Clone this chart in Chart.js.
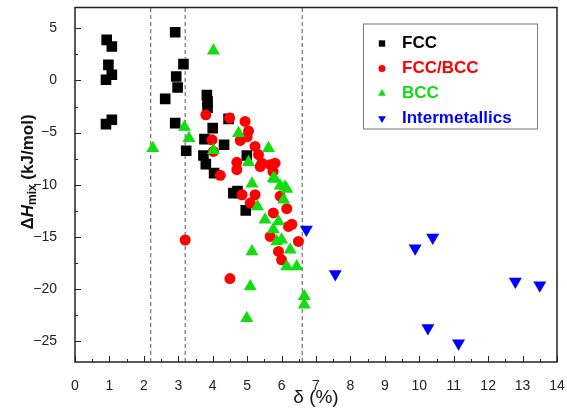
<!DOCTYPE html>
<html>
<head>
<meta charset="utf-8">
<script src="https://cdn.jsdelivr.net/npm/chart.js@4"></script>
<style>
  html, body { margin: 0; padding: 0; background: #fff; }
  #wrap { width: 567px; height: 412px; }
</style>
</head>
<body>
<div id="wrap"><canvas id="phaseChart"></canvas></div>
<script>
// delta (%) vs dHmix (kJ/mol)
const fccPoints = [
  [0.92, 3.9], [1.07, 3.26], [0.97, 1.5], [1.07, 0.55], [0.9, 0.07], [1.07, -3.77], [0.9, -4.19],
  [2.91, 4.63], [3.15, 1.57], [2.94, 0.38], [2.98, -0.67], [2.62, -1.76], [2.91, -4.09], [3.23, -6.74],
  [3.83, -1.4], [3.85, -2.0], [3.85, -2.6], [4.0, -4.57], [3.76, -5.62], [4.33, -6.17], [4.46, -3.68],
  [3.73, -7.19], [3.8, -8.02], [4.04, -8.89], [4.99, -7.19], [4.6, -10.8], [4.72, -10.6], [4.96, -12.46]
];
const fccBccPoints = [
  [3.8, -3.29], [4.49, -3.61], [4.94, -3.93], [5.04, -4.85], [5.0, -5.4], [4.8, -5.75], [5.23, -6.33],
  [3.98, -5.69], [4.02, -6.8], [5.33, -7.12], [5.43, -7.93], [5.67, -8.08], [5.81, -7.93], [5.75, -8.72],
  [5.38, -8.25], [4.7, -7.85], [4.7, -8.56], [4.22, -9.1], [4.85, -10.96], [5.23, -10.96], [5.09, -11.76],
  [5.96, -11.1], [6.15, -12.3], [5.76, -12.7], [6.3, -13.8], [6.2, -14.0], [5.67, -14.96], [6.49, -15.44],
  [5.91, -16.4], [6.0, -17.2], [3.2, -15.3], [4.5, -19.0]
];
const bccPoints = [
  [4.02, 2.85], [2.26, -6.49], [3.18, -4.45], [3.31, -5.53], [4.75, -5.05], [4.02, -6.7], [5.04, -7.85],
  [5.62, -6.49], [5.14, -9.9], [5.76, -9.37], [5.81, -9.45], [5.96, -10.1], [6.1, -10.2], [6.15, -10.4],
  [6.06, -11.44], [5.3, -12.08], [5.52, -13.36], [5.91, -13.52], [5.76, -14.3], [6.0, -15.28], [5.86, -15.44],
  [6.25, -16.23], [6.15, -17.83], [6.44, -17.83], [5.14, -16.4], [5.09, -19.75], [4.99, -22.8],
  [6.66, -20.7], [6.66, -21.5]
];
const interPoints = [
  [6.72, -14.3], [7.56, -18.57], [9.88, -16.1], [10.39, -15.05], [10.25, -23.75], [11.14, -25.2],
  [12.79, -19.27], [13.5, -19.65]
];
const dashedX = [2.2, 3.2, 6.6];
const xTicks = [0, 1, 2, 3, 4, 5, 6, 7, 8, 9, 10, 11, 12, 13, 14];
const yTicks = [5, 0, -5, -10, -15, -20, -25];

const toXY = arr => arr.map(p => ({ x: p[0], y: p[1] }));
const FONT = "'Liberation Sans', Arial, sans-serif";

const series = [
  { label: 'FCC', data: fccPoints, color: '#000000', style: 'rect', r: 7.5, rot: 0 },
  { label: 'FCC/BCC', data: fccBccPoints, color: '#ff0000', style: 'circle', r: 5.5, rot: 0 },
  { label: 'BCC', data: bccPoints, color: '#11dd11', style: 'triangle', r: 7.5, rot: 0 },
  { label: 'Intermetallics', data: interPoints, color: '#0000ff', style: 'triangle', r: 7.5, rot: 180 }
];

const datasets = series.map((s, i) => ({
  label: s.label,
  data: toXY(s.data),
  pointStyle: s.style,
  pointRadius: s.r,
  rotation: s.rot,
  backgroundColor: s.color,
  borderColor: s.color,
  borderWidth: 0,
  order: series.length - i
}));

dashedX.forEach(v => {
  datasets.push({
    type: 'line',
    label: '',
    data: [{ x: v, y: -27 }, { x: v, y: 7 }],
    borderColor: '#555',
    borderWidth: 1,
    borderDash: [4, 3],
    pointRadius: 0,
    order: 20
  });
});

// frame, inward ticks, y title and the boxed legend
const decorations = {
  id: 'decorations',
  afterDatasetsDraw(chart) {
    const { ctx, chartArea: a, scales: { x, y } } = chart;
    ctx.save();
    ctx.strokeStyle = '#222';
    ctx.lineWidth = 1.5;
    ctx.strokeRect(a.left, a.top, a.right - a.left, a.bottom - a.top);

    ctx.lineWidth = 1;
    ctx.beginPath();
    for (let v = 0; v <= 14; v += 0.5) {
      const px = Math.round(x.getPixelForValue(v)) + 0.5;
      const len = Number.isInteger(v) ? 6 : 3;
      ctx.moveTo(px, a.bottom);
      ctx.lineTo(px, a.bottom - len);
    }
    for (let v = -25; v <= 5; v += 2.5) {
      const py = Math.round(y.getPixelForValue(v)) + 0.5;
      const len = v % 5 === 0 ? 6 : 3;
      ctx.moveTo(a.left, py);
      ctx.lineTo(a.left + len, py);
    }
    ctx.stroke();

    // y axis title: ΔH_mix (kJ/mol)
    ctx.translate(28, 172);
    ctx.rotate(-Math.PI / 2);
    ctx.fillStyle = '#111';
    ctx.textBaseline = 'middle';
    const parts = [
      { t: 'Δ', f: 'bold 17px ' + FONT, dy: 0 },
      { t: 'H', f: 'italic bold 17px ' + FONT, dy: 0 },
      { t: 'mix', f: 'bold 12px ' + FONT, dy: 5 },
      { t: ' (kJ/mol)', f: 'bold 17px ' + FONT, dy: 0 }
    ];
    let total = 0;
    parts.forEach(p => { ctx.font = p.f; p.w = ctx.measureText(p.t).width; total += p.w; });
    let cx = -total / 2;
    ctx.textAlign = 'left';
    parts.forEach(p => { ctx.font = p.f; ctx.fillText(p.t, cx, p.dy); cx += p.w; });
    ctx.restore();

    // legend box
    ctx.save();
    const bx = a.right - 194, by = a.top + 16, bw = 174, bh = 105;
    ctx.fillStyle = '#fff';
    ctx.fillRect(bx, by, bw, bh);
    ctx.strokeStyle = '#777';
    ctx.lineWidth = 1;
    ctx.strokeRect(bx + 0.5, by + 0.5, bw, bh);
    ctx.font = 'bold 17px ' + FONT;
    ctx.textBaseline = 'middle';
    ctx.textAlign = 'left';
    series.forEach((s, i) => {
      const ry = by + 20 + i * 25;
      ctx.fillStyle = s.color;
      ctx.strokeStyle = s.color;
      Chart.helpers.drawPoint(ctx, {
        pointStyle: s.style, radius: s.style === 'circle' ? 3.5 : 4.5, rotation: s.rot, borderWidth: 0
      }, bx + 19, ry);
      ctx.fillText(s.label, bx + 39, ry);
    });
    ctx.restore();
  }
};

const minus = v => String(v).replace('-', '\u2212');
const noEdgePadding = s => { s.paddingLeft = 0; s.paddingRight = 0; s.paddingTop = 0; s.paddingBottom = 0; };

new Chart(document.getElementById('phaseChart'), {
  type: 'scatter',
  data: { datasets },
  options: {
    responsive: true,
    maintainAspectRatio: false,
    animation: false,
    layout: { padding: { left: 0, right: 10, top: 7, bottom: 0 } },
    plugins: { legend: { display: false }, tooltip: { enabled: false } },
    scales: {
      x: {
        type: 'linear',
        min: 0,
        max: 14,
        afterBuildTicks: s => { s.ticks = xTicks.map(v => ({ value: v })); },
        afterFit: s => { s.height = 50; noEdgePadding(s); },
        grid: { display: false },
        border: { display: false },
        ticks: { padding: 8, color: '#222', font: { family: FONT, size: 14 }, maxRotation: 0 },
        title: { display: true, text: 'δ (%)', color: '#111', font: { family: FONT, size: 19 }, padding: { top: 0, bottom: 3 } }
      },
      y: {
        type: 'linear',
        min: -27,
        max: 7,
        afterBuildTicks: s => { s.ticks = yTicks.map(v => ({ value: v })); },
        afterFit: s => { s.width = 75; noEdgePadding(s); },
        grid: { display: false },
        border: { display: false },
        ticks: { padding: 10, color: '#222', font: { family: FONT, size: 14 }, callback: v => minus(v) }
      }
    }
  },
  plugins: [decorations]
});
</script>
</body>
</html>
